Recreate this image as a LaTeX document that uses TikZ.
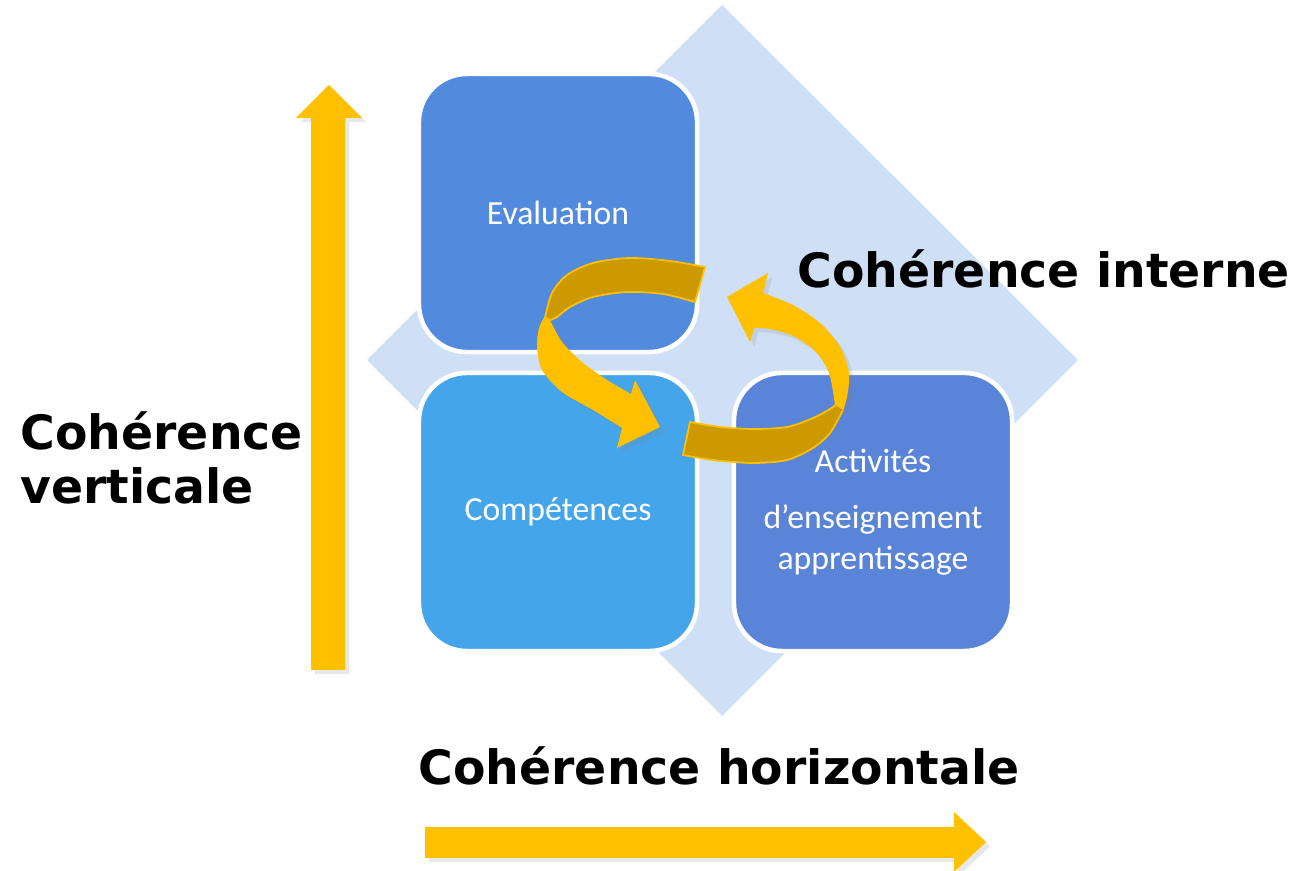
\documentclass[tikz,border=0pt]{standalone}
\usepackage{fontspec}
\usetikzlibrary{shadows}
\newfontfamily\boxfont{Carlito}
\newfontfamily\labelfont{DejaVu Sans}
\definecolor{diamondblue}{HTML}{CFE0F6}
\definecolor{evalblue}{HTML}{528BDE}
\definecolor{compblue}{HTML}{45A5EA}
\definecolor{actblue}{HTML}{5A84D8}
\definecolor{gold}{HTML}{FFC000}
\definecolor{darkgold}{HTML}{CC9A00}
\begin{document}
\begin{tikzpicture}[x=0.01cm,y=-0.01cm,
  box node/.style={draw=white,line width=1.3pt,rounded corners=0.48cm,minimum width=2.78cm,minimum height=2.78cm,text=white,font=\boxfont\fontsize{9.6}{11.5}\selectfont,align=center},
  title node/.style={font=\labelfont\bfseries\fontsize{13.45}{15.6}\selectfont,inner sep=0pt},
  shade arrow/.style={fill=gold,drop shadow={opacity=0.18,shadow xshift=1.2pt,shadow yshift=-1.2pt}}]
  \useasboundingbox (0,0) rectangle (1297,871);

  % diamond behind the boxes
  \fill[diamondblue] (722,5) -- (1078,360) -- (722,716) -- (367,360) -- cycle;

  \node[box node,fill=evalblue] (eval) at (558,213) {Evaluation};
  \node[box node,fill=compblue] (comp) at (558,512) {Compétences};
  \node[box node,fill=actblue] (act) at (873,512) {Activités\\[4.5pt] d’enseignement\\ apprentissage};

  % big arrows
  \path[shade arrow] (311,670) -- (311,118) -- (296,118) -- (329,85) -- (362,118) -- (345,118) -- (345,670) -- cycle;
  \path[shade arrow] (425,827) -- (954,827) -- (954,812) -- (986,842) -- (954,872) -- (954,858) -- (425,858) -- cycle;

  % loop from Evaluation to Compétences
  \filldraw[fill=darkgold,draw=gold,line width=0.5pt] plot[smooth] coordinates {(705,267) (670,261) (630,258) (593,263) (567,275) (552,293) (545,318)}
    -- plot[smooth] coordinates {(550,320) (557,317) (570,307) (593,297) (627,292) (663,294) (695,302)} -- cycle;
  \path[shade arrow] plot[smooth] coordinates {(545,316) (539,328) (537,347) (542,370) (562,392) (593,410) (622,428)}
    -- (617,448) -- (660,427) -- (635,380)
    -- plot[smooth] coordinates {(631,394) (607,380) (582,362) (562,342) (550,320)} -- cycle;

  % loop from Activités back to Evaluation
  \filldraw[fill=darkgold,draw=gold,line width=0.5pt] plot[smooth] coordinates {(690,422) (720,427) (753,429) (787,427) (813,418) (833,407) (845,395)}
    -- plot[smooth] coordinates {(843,410) (830,433) (813,448) (787,460) (753,463) (713,460) (683,455)} -- cycle;
  \path[shade arrow] plot[smooth] coordinates {(835,405) (829,373) (815,351) (793,336) (770,329) (754,328)}
    -- (750,342) -- (727,297) -- (768,273)
    -- plot[smooth] coordinates {(763,293) (793,305) (820,323) (840,347) (849,373) (847,397) (843,410)} -- cycle;

  \node[title node,anchor=base west] (cohint) at (797,288) {Cohérence interne};
  \node[title node,anchor=base west] (cohhor) at (418,785) {Cohérence horizontale};
  \node[title node,anchor=west,align=left] (cohver) at (20,458) {Cohérence\\verticale};
\end{tikzpicture}
\end{document}
